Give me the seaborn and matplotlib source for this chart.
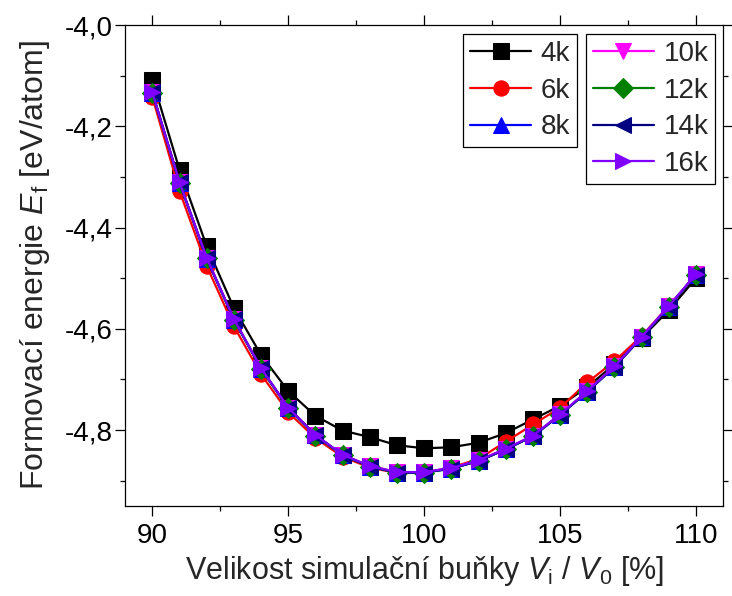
import matplotlib
matplotlib.use('Agg')
import matplotlib.pyplot as plt
from matplotlib.ticker import MultipleLocator, FuncFormatter
import seaborn as sns

sns.set_style('ticks')
plt.rcParams['font.family'] = ['Liberation Sans', 'DejaVu Sans']
plt.rcParams['mathtext.fontset'] = 'custom'
plt.rcParams['mathtext.rm'] = 'Liberation Sans'
plt.rcParams['mathtext.it'] = 'Liberation Sans:italic'

# relative cell volume V_i / V_0 [%]
volume = [90, 91, 92, 93, 94, 95, 96, 97, 98, 99, 100,
          101, 102, 103, 104, 105, 106, 107, 108, 109, 110]

# formation energy [eV/atom] for each k-point setting
e_4k = [-4.108, -4.286, -4.437, -4.559, -4.652, -4.723, -4.772, -4.801,
        -4.814, -4.830, -4.836, -4.834, -4.825, -4.806, -4.779, -4.752,
        -4.715, -4.670, -4.618, -4.563, -4.500]
e_6k = [-4.142, -4.328, -4.476, -4.595, -4.690, -4.765, -4.816, -4.853,
        -4.874, -4.885, -4.884, -4.874, -4.857, -4.823, -4.789, -4.756,
        -4.706, -4.664, -4.614, -4.555, -4.493]
e_8k = [-4.134, -4.312, -4.462, -4.582, -4.679, -4.757, -4.810, -4.850,
        -4.872, -4.884, -4.884, -4.876, -4.861, -4.838, -4.812, -4.770,
        -4.724, -4.675, -4.617, -4.556, -4.493]
e_10k = [-4.133, -4.311, -4.460, -4.581, -4.678, -4.756, -4.810, -4.849,
         -4.871, -4.883, -4.883, -4.875, -4.860, -4.837, -4.811, -4.769,
         -4.723, -4.674, -4.616, -4.555, -4.492]
e_12k = [-4.134, -4.312, -4.461, -4.582, -4.679, -4.757, -4.811, -4.850,
         -4.872, -4.884, -4.884, -4.876, -4.861, -4.838, -4.812, -4.770,
         -4.724, -4.675, -4.617, -4.556, -4.493]
e_14k = [-4.133, -4.311, -4.461, -4.581, -4.678, -4.756, -4.810, -4.849,
         -4.872, -4.884, -4.884, -4.876, -4.861, -4.838, -4.812, -4.770,
         -4.724, -4.675, -4.617, -4.556, -4.493]
e_16k = [-4.133, -4.311, -4.460, -4.581, -4.678, -4.756, -4.810, -4.849,
         -4.871, -4.883, -4.883, -4.875, -4.860, -4.837, -4.811, -4.769,
         -4.723, -4.674, -4.616, -4.555, -4.492]

series_labels = ['4k', '6k', '8k', '10k', '12k', '14k', '16k']
series_values = [e_4k, e_6k, e_8k, e_10k, e_12k, e_14k, e_16k]
colors = ['#000000', '#ff0000', '#0000ff', '#ff00ff', '#008000',
          '#000080', '#8000ff']
markers = ['s', 'o', '^', 'v', 'D', '<', '>']
sizes = [11, 11, 12, 12, 10, 12, 12]

fig, ax = plt.subplots(figsize=(7.32, 5.96), dpi=100)
fig.subplots_adjust(left=0.171, right=0.988, top=0.958, bottom=0.151)

for lab, vals, col, mk, ms in zip(series_labels, series_values, colors,
                                  markers, sizes):
    sns.lineplot(x=volume, y=vals, ax=ax, color=col, marker=mk,
                 markersize=ms, markeredgecolor=col, linewidth=1.6,
                 label=lab)

ax.set_xlim(89, 111)
ax.set_ylim(-4.95, -4.0)
ax.xaxis.set_major_locator(MultipleLocator(5))
ax.xaxis.set_minor_locator(MultipleLocator(2.5))
ax.yaxis.set_major_locator(MultipleLocator(0.2))
ax.yaxis.set_minor_locator(MultipleLocator(0.1))
ax.yaxis.set_major_formatter(
    FuncFormatter(lambda v, p: f'{v:.1f}'.replace('.', ',')))

for sp in ax.spines.values():
    sp.set_linewidth(0.9)
    sp.set_color('black')
ax.tick_params(which='both', direction='out', top=True, right=True,
               labeltop=False, labelright=False, width=0.9,
               colors='black', labelsize=20)
ax.tick_params(which='major', length=7)
ax.tick_params(which='minor', length=3.5)
ax.tick_params(axis='y', which='major', pad=2)
ax.tick_params(axis='x', which='major', pad=5)

ax.set_xlabel(r'Velikost simulační buňky $V_\mathrm{i}$ / $V_0$ [%]',
              fontsize=22, labelpad=4)
ax.set_ylabel(r'Formovací energie $E_\mathrm{f}$ [eV/atom]',
              fontsize=23, labelpad=9)

handles, labels = ax.get_legend_handles_labels()
ax.get_legend().remove()
leg_kw = dict(loc='upper right', fontsize=20, frameon=True, fancybox=False,
              edgecolor='black', framealpha=1, borderaxespad=0,
              borderpad=0.25, labelspacing=0.38, handlelength=2.2,
              handletextpad=0.35)
leg1 = ax.legend(handles[:3], labels[:3], bbox_to_anchor=(0.756, 0.981),
                 **leg_kw)
leg1.get_frame().set_linewidth(0.9)
ax.add_artist(leg1)
leg2 = ax.legend(handles[3:], labels[3:], bbox_to_anchor=(0.987, 0.981),
                 **leg_kw)
leg2.get_frame().set_linewidth(0.9)

fig.savefig('out.png', dpi=100)
plt.close('all')
